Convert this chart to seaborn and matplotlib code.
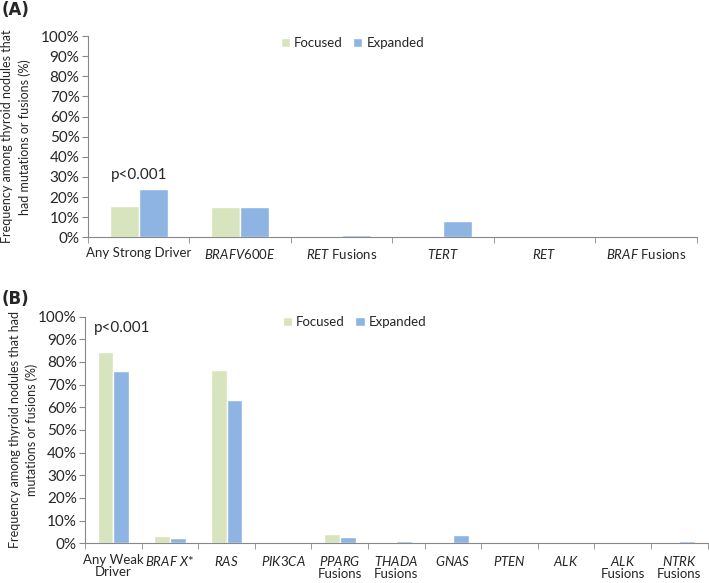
import pandas as pd
import matplotlib.pyplot as plt
import seaborn as sns

# ── Datos ───────────────────────────────────────
cats_a = ['Any Strong Driver', r'$\it{BRAFV600E}$', r'$\it{RET}$ Fusions',
          r'$\it{TERT}$', r'$\it{RET}$', r'$\it{BRAF}$ Fusions']
focused_a = [15.5, 15.0, 0.3, 0.0, 0.2, 0.2]
expanded_a = [24.0, 15.0, 1.0, 8.1, 0.4, 0.2]

cats_b = ['Any Weak\nDriver', r'$\it{BRAF\ X}$*', r'$\it{RAS}$', r'$\it{PIK3CA}$',
          '$\\it{PPARG}$\nFusions', '$\\it{THADA}$\nFusions', r'$\it{GNAS}$',
          r'$\it{PTEN}$', r'$\it{ALK}$', '$\\it{ALK}$\nFusions', '$\\it{NTRK}$\nFusions']
focused_b = [84.5, 3.2, 76.5, 0.3, 4.3, 0.0, 0.0, 0.0, 0.0, 0.0, 0.0]
expanded_b = [76.2, 2.5, 63.2, 0.3, 2.6, 1.2, 3.5, 0.4, 0.0, 0.7, 1.2]

series = ['Focused', 'Expanded']
colors = {'Focused': '#D7E4BD', 'Expanded': '#8EB4E3'}

sns.set_style('white')
plt.rcParams['font.family'] = ['Lato', 'DejaVu Sans']
plt.rcParams['mathtext.fontset'] = 'custom'
plt.rcParams['mathtext.rm'] = 'Lato'
plt.rcParams['mathtext.it'] = 'Lato:italic'


def long_df(cats, foc, exp):
    return pd.DataFrame({
        'cat': cats * 2,
        'serie': ['Focused'] * len(cats) + ['Expanded'] * len(cats),
        'val': foc + exp,
    })


def panel(ax, df, n, width, ylabel, ylab_x, leg_x, pxy, xpad):
    sns.barplot(data=df, x='cat', y='val', hue='serie', hue_order=series,
                palette=colors, width=width, ax=ax, saturation=1, legend=True)
    ax.set_ylim(0, 100)
    ax.set_xlim(-0.5, n - 0.5)
    ax.set_yticks(range(0, 101, 10))
    ax.set_yticklabels([f'{v}%' for v in range(0, 101, 10)], fontsize=11)
    ax.set_xlabel('')
    ax.set_ylabel(ylabel, fontsize=9, linespacing=1.45)
    ax.yaxis.set_label_coords(ylab_x, 0.5)
    ax.tick_params(axis='x', which='major', length=0, labelsize=9.5, pad=xpad)
    for lab in ax.get_xticklabels():
        lab.set_linespacing(1.0)
    ax.set_xticks([i - 0.5 for i in range(n + 1)], minor=True)
    ax.tick_params(axis='x', which='minor', length=4, color='#888888', bottom=True)
    ax.tick_params(axis='y', length=4, color='#888888', left=True, pad=2)
    for s in ['top', 'right']:
        ax.spines[s].set_visible(False)
    for s in ['left', 'bottom']:
        ax.spines[s].set_color('#888888')
    ax.legend(loc='upper center', ncol=2, frameon=False, fontsize=9.5,
              handlelength=0.7, handleheight=0.7, handletextpad=0.3,
              columnspacing=0.8, bbox_to_anchor=(leg_x, 1.055))
    ax.text(pxy[0], pxy[1], 'p<0.001', fontsize=11, ha='center', va='center')


fig = plt.figure(figsize=(7.09, 5.83), dpi=100)
ax_a = fig.add_axes([0.124, 0.593, 0.859, 0.345])
ax_b = fig.add_axes([0.120, 0.068, 0.878, 0.389])

panel(ax_a, long_df(cats_a, focused_a, expanded_a), len(cats_a), 0.57,
      'Frequency among thyroid nodules that\nhad mutations or fusions (%)',
      -0.094, 0.434, (0.0, 31), 7)
panel(ax_b, long_df(cats_b, focused_b, expanded_b), len(cats_b), 0.56,
      'Frequency among thyroid nodules that had\nmutations or fusions (%)',
      -0.075, 0.433, (0.15, 95), 8)

fig.text(0.002, 0.975, '(A)', fontsize=12, fontweight='bold', family='DejaVu Sans')
fig.text(0.002, 0.478, '(B)', fontsize=12, fontweight='bold', family='DejaVu Sans')

plt.savefig('out.png', dpi=100)
